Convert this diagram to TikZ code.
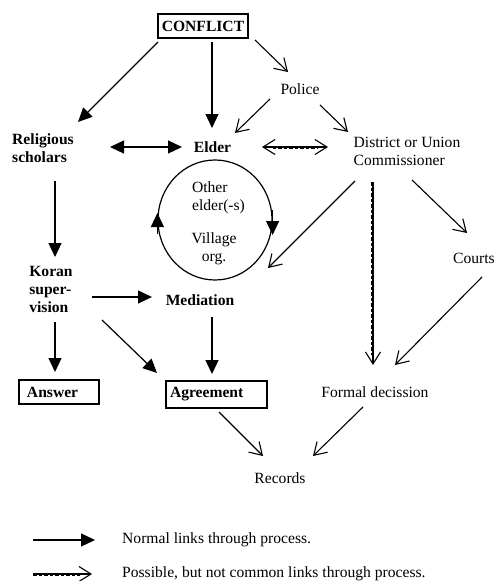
\documentclass[tikz,border=0pt]{standalone}
\usepackage{fontspec}
\setmainfont{Liberation Serif}
\usetikzlibrary{arrows.meta,calc,shapes.geometric}
\tikzset{
  txt/.style={inner sep=0pt, font=\fontsize{15.6}{18}\selectfont},
  btxt/.style={inner sep=0pt, font=\fontsize{15.6}{18}\selectfont\bfseries},
  boxnode/.style={draw, line width=1.2pt, inner ysep=0pt, font=\fontsize{15.6}{18}\selectfont\bfseries},
  farr/.style={line width=1.2pt, -{Triangle[length=14pt,width=13pt]}},
  farrboth/.style={line width=1.2pt, {Triangle[length=14pt,width=13pt]}-{Triangle[length=14pt,width=13pt]}},
  oarr/.style={line width=1.1pt, -{Straight Barb[length=12pt,width=15pt,line width=1.1pt]}},
  oarrboth/.style={line width=1.1pt, {Straight Barb[length=12pt,width=15pt,line width=1.1pt]}-{Straight Barb[length=12pt,width=15pt,line width=1.1pt]}},
  dashover/.style={line width=3pt, dash pattern=on 3.5pt off 2pt},
}
\begin{document}
\begin{tikzpicture}[x=1pt,y=-1pt]
\useasboundingbox (0,0) rectangle (495,581);

% nodes
\node[boxnode, minimum width=90pt, minimum height=24pt] (conflict) at (203,26) {CONFLICT};
\node[txt] (police) at (300,89) {Police};
\node[btxt] (elder) at (212.5,147) {Elder};
\node[btxt, align=left] (relig) at (43,148) {Religious\\scholars};
\node[txt, align=left] (district) at (407,151) {District or Union\\Commissioner};
\node[draw, ellipse, line width=1.2pt, minimum width=114pt, minimum height=120pt, inner sep=0pt] (circ) at (215,220) {};
\node[txt, align=left] (other) at (218.5,197.5) {Other\\elder(-s)};
\node[txt, align=center] (village) at (214,248.5) {Village\\org.};
\node[btxt, align=left] (koran) at (51,289) {Koran\\super-\\vision};
\node[btxt] (mediation) at (200,300) {Mediation};
\node[txt, anchor=west] (courts) at (453,258) {Courts};
\node[boxnode, text width=64pt, inner xsep=8pt, minimum height=24pt, align=left] (answer) at (59,392) {Answer};
\node[boxnode, text width=93pt, inner xsep=4pt, minimum height=27pt, align=left] (agreement) at (216.5,394.5) {Agreement};
\node[txt] (formal) at (375,392) {Formal decission};
\node[txt] (records) at (280,478) {Records};

% connectors
\draw[farr] ($(conflict)+(-45,16)$) -- ($(relig)+(35,-26)$);
\draw[farr] ($(conflict)+(9,16)$) -- ($(elder)+(-0.5,-19)$);
\draw[oarr] ($(conflict)+(52,14)$) -- ($(police)+(-12,-17)$);
\draw[oarr] ($(police)+(-30,10)$) -- ($(elder)+(22.5,-14)$);
\draw[oarr] ($(police)+(20,16)$) -- ($(district)+(-59,-19)$);
\draw[farrboth] ($(relig)+(67,-1)$) -- ($(elder)+(-30.5,0)$);
\draw[oarrboth] ($(elder)+(49.5,0)$) -- ($(district)+(-79,-4)$);
\draw[dashover] ($(elder)+(60,0)$) -- ($(district)+(-89,-4)$);
\draw[oarr] ($(district)+(-52,30)$) -- ($(circ)+(53,48)$);
\draw[oarr] ($(district)+(-34,31)$) -- ($(formal)+(-2,-27)$);
\draw[dashover] ($(district)+(-34.5,31)$) -- ($(formal)+(-2.5,-37)$);
\draw[oarr] ($(district)+(5,29)$) -- ($(courts.west)+(14,-25)$);
\draw[oarr] ($(courts.west)+(29,19)$) -- ($(formal)+(20,-27)$);
\draw[farr] ($(relig)+(12,33)$) -- ($(koran)+(4,-32)$);
\draw[farr] ($(koran)+(41,8)$) -- ($(mediation)+(-48,-3)$);
\draw[farr] ($(koran)+(4,33)$) -- ($(answer)+(-4,-20)$);
\draw[farr] ($(koran)+(51,31)$) -- ($(agreement)+(-59.5,-21.5)$);
\draw[farr] ($(mediation)+(12,17)$) -- ($(agreement)+(-4.5,-20.5)$);
\draw[oarr] ($(agreement)+(2.5,17.5)$) -- ($(records)+(-17,-22)$);
\draw[oarr] ($(formal)+(-12,15)$) -- ($(records)+(33,-22)$);

% circle arrowheads
\draw[farr] ($(circ.west)+(0,14)$) -- ($(circ.west)+(0,-7)$);
\draw[farr] ($(circ.east)+(0,-10)$) -- ($(circ.east)+(0,15)$);

% legend
\coordinate (la1) at (33,540);
\coordinate (lb1) at (95,540);
\coordinate (la2) at (33,574);
\coordinate (lb2) at (92,574);
\draw[farr] (la1) -- (lb1);
\draw[oarr] (la2) -- (lb2);
\draw[dashover] (la2) -- ($(lb2)+(-12,0)$);
\node[txt, anchor=west] (leg1) at (122,540) {Normal links through process.};
\node[txt, anchor=west] (leg2) at (122,574) {Possible, but not common links through process.};
\end{tikzpicture}
\end{document}
